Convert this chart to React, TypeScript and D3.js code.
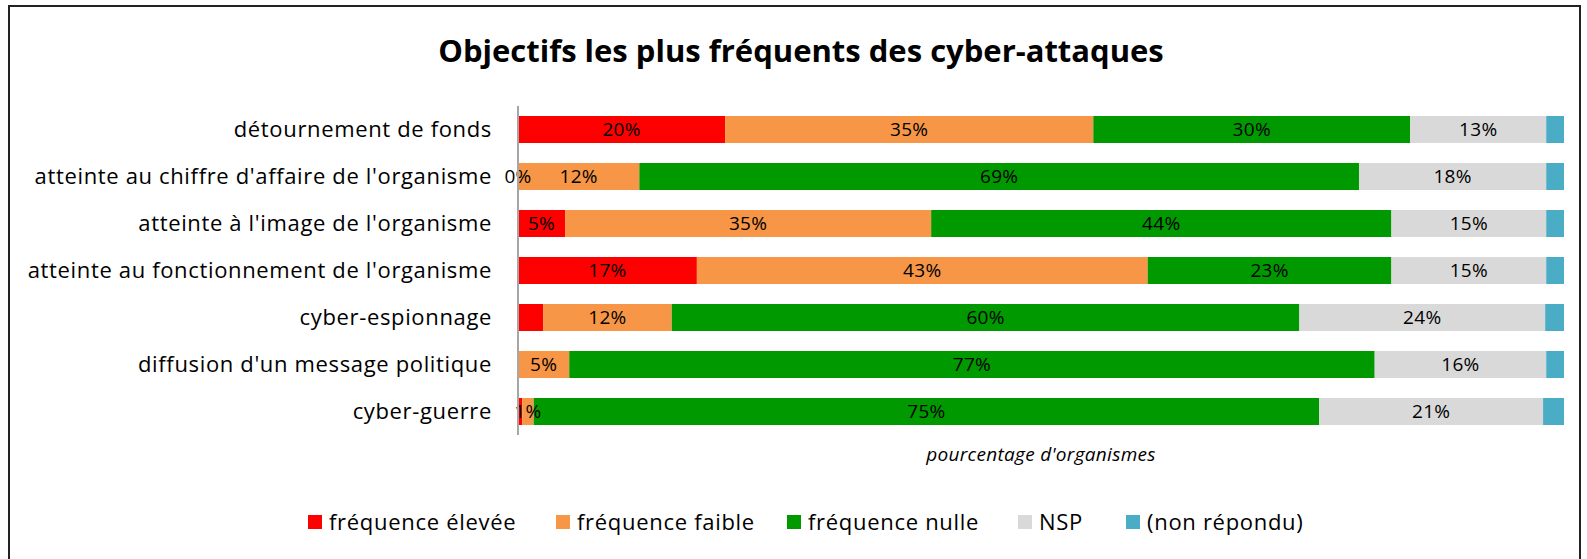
import * as d3 from 'd3';
import React from 'react';

// objectifs des cyber-attaques, % d'organismes
const categories = [
  'détournement de fonds',
  "atteinte au chiffre d'affaire de l'organisme",
  "atteinte à l'image de l'organisme",
  "atteinte au fonctionnement de l'organisme",
  'cyber-espionnage',
  "diffusion d'un message politique",
  'cyber-guerre',
];
const seriesNames = ['fréquence élevée', 'fréquence faible', 'fréquence nulle', 'NSP', '(non répondu)'];
const elevee = [19.8, 0, 4.5, 17.1, 2.4, 0, 0.4];
const faible = [35.2, 11.6, 35.0, 43.1, 12.3, 4.9, 1.1];
const nulle = [30.3, 68.8, 44.0, 23.3, 60.0, 77.0, 75.1];
const nsp = [13.0, 17.9, 14.8, 14.8, 23.5, 16.4, 21.4];
const nonRepondu = [1.7, 1.7, 1.7, 1.7, 1.8, 1.7, 2.0];
const colors = ['#ff0000', '#f79646', '#009a00', '#d9d9d9', '#4bacc6'];
// labels removed in the original
const hiddenLabels = ['0-4', '0-5', '0-6'];

const W = 1587;
const H = 559;
const FONT = '"Open Sans", sans-serif';

export default function App() {
  const allSeries = [elevee, faible, nulle, nsp, nonRepondu];
  const rows = categories.map((c, i) => {
    const r: any = { cat: c };
    seriesNames.forEach((s, j) => (r[s] = allSeries[j][i]));
    return r;
  });
  const stacked = d3.stack().keys(seriesNames)(rows);

  const x = d3.scaleLinear().domain([0, 100]).range([518, 1564]);
  const y = d3
    .scaleBand()
    .domain(categories)
    .range([106, 435])
    .paddingInner(20 / 47)
    .paddingOuter(10 / 47);

  const legendX = [308, 556, 787, 1018, 1126];

  return (
    <div style={{ position: 'fixed', left: 0, top: 0 }}>
      <svg width={W} height={H} style={{ display: 'block', background: '#fff' }}>
        <rect x={9} y={6} width={1571} height={H + 10} fill="#fff" stroke="#222" strokeWidth={2} />
        <text x={801} y={62} textAnchor="middle" fontFamily={FONT} fontWeight="bold" fontSize={31} fill="#000">
          Objectifs les plus fréquents des cyber-attaques
        </text>

        {stacked.map((layer, si) => (
          <g key={layer.key} fill={colors[si]}>
            {layer.map((d, ri) => (
              <rect
                key={ri}
                x={x(d[0])}
                y={y(categories[ri])}
                width={x(d[1]) - x(d[0])}
                height={y.bandwidth()}
              />
            ))}
          </g>
        ))}

        {stacked.map((layer, si) =>
          si === 4
            ? null
            : layer.map((d, ri) =>
                hiddenLabels.includes(si + '-' + ri) ? null : (
                  <text
                    key={si + '-' + ri}
                    x={(x(d[0]) + x(d[1])) / 2}
                    y={(y(categories[ri]) ?? 0) + y.bandwidth() / 2}
                    dy="0.36em"
                    textAnchor="middle"
                    fontFamily={FONT}
                    fontSize={19}
                    letterSpacing={0.3}
                    fill="#000"
                  >
                    {Math.round(d[1] - d[0])}%
                  </text>
                )
              )
        )}

        <line x1={x(0)} x2={x(0)} y1={106} y2={435} stroke="#a6a6a6" strokeWidth={2} />

        {categories.map((c) => (
          <text
            key={c}
            x={492}
            y={(y(c) ?? 0) + y.bandwidth() / 2}
            dy="0.36em"
            textAnchor="end"
            fontFamily={FONT}
            fontSize={22}
            letterSpacing={0.65}
            fill="#000"
          >
            {c}
          </text>
        ))}

        <text
          x={(x(0) + x(100)) / 2}
          y={454}
          dy="0.36em"
          textAnchor="middle"
          fontFamily={FONT}
          fontStyle="italic"
          fontSize={19}
          letterSpacing={0.3}
          fill="#000"
        >
          pourcentage d'organismes
        </text>

        {seriesNames.map((s, i) => (
          <g key={s} transform={`translate(${legendX[i]},522)`}>
            <rect x={0} y={-7} width={14} height={14} fill={colors[i]} />
            <text x={21} dy="0.36em" fontFamily={FONT} fontSize={22} letterSpacing={0.7} fill="#000">
              {s}
            </text>
          </g>
        ))}
      </svg>
    </div>
  );
}
